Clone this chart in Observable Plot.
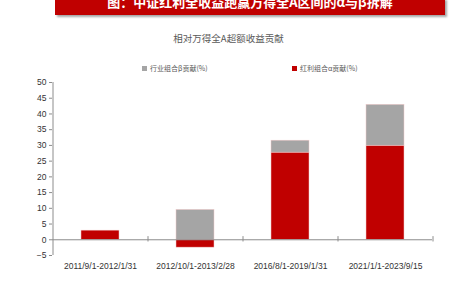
<!DOCTYPE html>
<html><head><meta charset="utf-8">
<script src="https://cdn.jsdelivr.net/npm/d3@7"></script>
<script src="https://cdn.jsdelivr.net/npm/@observablehq/plot@0.6"></script>
<style>
html,body{margin:0;padding:0;background:#fff;}
#wrap{position:relative;width:457px;height:284px;overflow:hidden;font-family:"Noto Sans CJK SC",sans-serif;}
#banner{position:absolute;left:55px;top:-2px;width:390px;height:17px;background:#C00000;box-shadow:2px 2px 2px rgba(0,0,0,0.35);overflow:hidden;}
#banner span{position:absolute;left:0;right:0;top:-4px;text-align:center;color:#fff;font-weight:bold;font-size:13px;line-height:15px;white-space:nowrap;}
#title{position:absolute;left:0;width:457px;top:31px;text-align:center;font-size:9.5px;color:#595959;}
.leg{position:absolute;top:63px;font-size:7px;color:#595959;white-space:nowrap;}
.leg i{display:inline-block;width:5px;height:5px;margin-right:3px;vertical-align:0px;}
#chart{position:absolute;left:0;top:0;}
</style></head>
<body><div id="wrap">
<div id="banner"><span>图：中证红利全收益跑赢万得全A区间的α与β拆解</span></div>
<div id="title">相对万得全A超额收益贡献</div>
<div class="leg" style="left:142px"><i style="background:#A5A5A5"></i>行业组合β贡献(%)</div>
<div class="leg" style="left:292px"><i style="background:#C00000"></i>红利组合α贡献(%)</div>
<div id="chart"></div>
</div>
<script>
const periods = ["2011/9/1-2012/1/31","2012/10/1-2013/2/28","2016/8/1-2019/1/31","2021/1/1-2023/9/15"];
const alphaValues = [2.9, -2.5, 27.7, 29.9];
const betaValues = [0, 9.5, 3.8, 13.0];
const seriesNames = ["红利组合α贡献(%)","行业组合β贡献(%)"];
const yTicks = [-5,0,5,10,15,20,25,30,35,40,45,50];

const rows = [];
periods.forEach((p,i)=>rows.push({period:p, series:seriesNames[0], value:alphaValues[i]}));
periods.forEach((p,i)=>rows.push({period:p, series:seriesNames[1], value:betaValues[i]}));

const step = 95;
const chart = Plot.plot({
  width:457, height:284,
  marginTop:82, marginBottom:29, marginLeft:52, marginRight:25,
  style:{fontFamily:"'Liberation Sans',Arial,sans-serif", fontSize:"8.5px", color:"#333", background:"transparent"},
  x:{domain:periods, paddingInner:0.6, paddingOuter:0.3, label:null},
  y:{domain:[-5,50], label:null},
  color:{domain:seriesNames, range:["#C00000","#A5A5A5"]},
  marks:[
    Plot.barY(rows, Plot.stackY({x:"period", y:"value", fill:"series", order:seriesNames, stroke:"#f2c9c9", strokeWidth:0.5})),
    Plot.ruleY([0], {stroke:"#8c8c8c", strokeWidth:1}),
    Plot.ruleX([periods[0]], {x:d=>d, dx:-step/2, y1:-5, y2:50, stroke:"#8c8c8c"}),
    Plot.ruleX(periods, {x:d=>d, dx:step/2, y1:-0.7, y2:1, stroke:"#8c8c8c"}),
    Plot.axisY({ticks:yTicks, tickSize:3, tickPadding:3, stroke:"#8c8c8c", fill:"#333"}),
    Plot.axisX({tickSize:0, tickPadding:7, fill:"#333"})
  ]
});
document.getElementById("chart").appendChild(chart);
</script>
</body></html>
